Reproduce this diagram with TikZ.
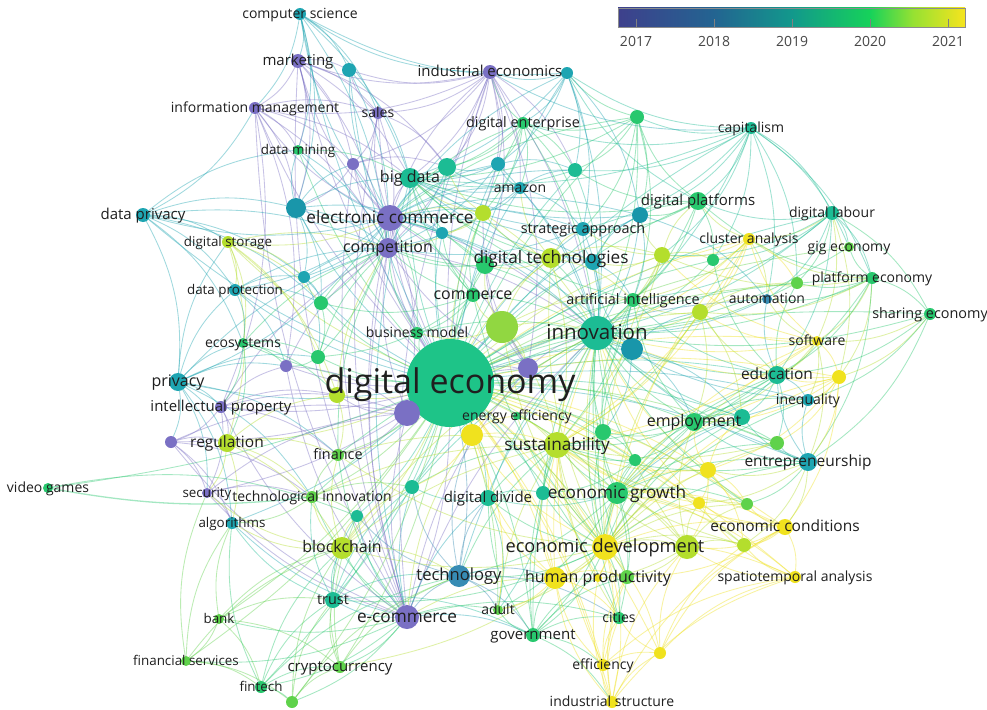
\documentclass[tikz,border=0pt]{standalone}
\usepackage{fontspec}
\setmainfont{Open Sans}
\definecolor{cP}{RGB}{122,112,196}
\definecolor{cB}{RGB}{55,140,180}
\definecolor{cT}{RGB}{30,165,178}
\definecolor{cT2}{RGB}{25,150,170}
\definecolor{cTG}{RGB}{28,188,148}
\definecolor{cDE}{RGB}{30,196,136}
\definecolor{cG}{RGB}{40,200,110}
\definecolor{cGG}{RGB}{95,210,75}
\definecolor{cLG}{RGB}{145,215,65}
\definecolor{cYG}{RGB}{180,222,45}
\definecolor{cY}{RGB}{240,226,30}
\definecolor{L0}{RGB}{62,64,140}
\definecolor{L1}{RGB}{35,100,145}
\definecolor{L2}{RGB}{18,152,140}
\definecolor{L3}{RGB}{22,210,90}
\definecolor{L4}{RGB}{150,225,50}
\definecolor{L5}{RGB}{246,228,30}
\pgfdeclarehorizontalshading{vir}{100bp}{color(0bp)=(L0); color(25bp)=(L0); color(38.85bp)=(L1); color(50bp)=(L2); color(61.3bp)=(L3); color(67.5bp)=(L4); color(75bp)=(L5); color(100bp)=(L5)}
\pgfdeclarelayer{paper}
\pgfdeclarelayer{edges}
\pgfsetlayers{paper,edges,main}
\begin{document}
\begin{tikzpicture}[x=1pt,y=-1pt,
  dot/.style={circle,inner sep=0pt,fill=#1,draw=none},
  lb/.style={font=\fontsize{#1}{#1}\selectfont,text=black!88,inner sep=0pt,anchor=base,yshift={-0.3*#1pt}},
  lb/.default=14,
  ed/.style={draw=#1,line width=0.85pt,draw opacity=0.42,line cap=round}]
\begin{pgfonlayer}{paper}
\fill[white] (0,0) rectangle (987,709);
\end{pgfonlayer}
\useasboundingbox (0,0) rectangle (987,709);
% ---------------- nodes (circles)
\node[dot=cT,minimum size=12] (cs) at (300,14) {};
\node[dot=cP,minimum size=14] (mkt) at (298,61) {};
\node[dot=cP,minimum size=12] (im) at (255,108) {};
\node[dot=cG,minimum size=10] (dm) at (298,150) {};
\node[dot=cT,minimum size=14] (dp) at (143,215) {};
\node[dot=cT2,minimum size=20] (u1) at (296,208) {};
\node[dot=cP,minimum size=26] (ec) at (390,218) {};
\node[dot=cT,minimum size=14] (u2) at (349,70) {};
\node[dot=cP,minimum size=14] (ie) at (490,72) {};
\node[dot=cT,minimum size=12] (u3) at (567,73) {};
\node[dot=cP,minimum size=12] (sales) at (378,113) {};
\node[dot=cP,minimum size=12] (u4) at (353,164) {};
\node[dot=cG,minimum size=12] (de) at (523,123) {};
\node[dot=cG,minimum size=14] (u5) at (637,117) {};
\node[dot=cTG,minimum size=20] (bd) at (410,178) {};
\node[dot=cTG,minimum size=18] (u6) at (447,167) {};
\node[dot=cT,minimum size=14] (u7) at (498,164) {};
\node[dot=cT,minimum size=12] (amz) at (520,188) {};
\node[dot=cTG,minimum size=14] (u8) at (575,170) {};
\node[dot=cYG,minimum size=16] (u9) at (483,213) {};
\node[dot=cT,minimum size=12] (u10) at (442,233) {};
\node[dot=cT2,minimum size=16] (u11) at (640,215) {};
\node[dot=cT,minimum size=14] (sa) at (583,229) {};
\node[dot=cTG,minimum size=12] (cap) at (751,128) {};
\node[dot=cG,minimum size=18] (dpl) at (698,201) {};
\node[dot=cTG,minimum size=14] (dl) at (832,213) {};
\node[dot=cY,minimum size=12] (ca) at (749,239) {};
\node[dot=cYG,minimum size=20] (dt) at (551,258) {};
\node[dot=cG,minimum size=18] (u12) at (485,265) {};
\node[dot=cT,minimum size=16] (u13) at (593,262) {};
\node[dot=cYG,minimum size=16] (u14) at (662,255) {};
\node[dot=cG,minimum size=12] (u15) at (713,260) {};
\node[dot=cGG,minimum size=12] (u16) at (797,283) {};
\node[dot=cB,minimum size=10] (auto) at (767,299) {};
\node[dot=cG,minimum size=14] (ai) at (633,300) {};
\node[dot=cYG,minimum size=16] (u17) at (700,312) {};
\node[dot=cTG,minimum size=34] (inn) at (597,333) {};
\node[dot=cT2,minimum size=22] (u18) at (632,349) {};
\node[dot=cP,minimum size=20] (comp) at (388,248) {};
\node[dot=cG,minimum size=14] (com) at (473,295) {};
\node[dot=cLG,minimum size=32] (u19) at (502,327) {};
\node[dot=cG,minimum size=12] (bm) at (417,333) {};
\node[dot=cDE,minimum size=88] (dec) at (450,383) {};
\node[dot=cP,minimum size=20] (u20) at (528,368) {};
\node[dot=cP,minimum size=26] (u21) at (407,413) {};
\node[dot=cG,minimum size=8] (ee) at (517,416) {};
\node[dot=cY,minimum size=22] (u22) at (472,435) {};
\node[dot=cYG,minimum size=26] (sus) at (557,445) {};
\node[dot=cG,minimum size=16] (u23) at (603,432) {};
\node[dot=cG,minimum size=12] (u24) at (635,460) {};
\node[dot=cGG,minimum size=12] (fin) at (338,455) {};
\node[dot=cYG,minimum size=16] (u25) at (337,395) {};
\node[dot=cYG,minimum size=12] (ds) at (228,242) {};
\node[dot=cT,minimum size=12] (u26) at (304,277) {};
\node[dot=cT,minimum size=12] (dpr) at (235,290) {};
\node[dot=cG,minimum size=14] (u27) at (321,303) {};
\node[dot=cG,minimum size=10] (eco) at (243,343) {};
\node[dot=cG,minimum size=14] (u28) at (318,357) {};
\node[dot=cP,minimum size=12] (u29) at (286,366) {};
\node[dot=cT,minimum size=18] (priv) at (178,382) {};
\node[dot=cP,minimum size=12] (ip) at (221,407) {};
\node[dot=cP,minimum size=12] (u30) at (171,442) {};
\node[dot=cYG,minimum size=18] (reg) at (227,443) {};
\node[dot=cP,minimum size=10] (sec) at (207,493) {};
\node[dot=cGG,minimum size=12] (ti) at (312,497) {};
\node[dot=cTG,minimum size=12] (u31) at (357,516) {};
\node[dot=cG,minimum size=10] (vg) at (48,488) {};
\node[dot=cT,minimum size=12] (alg) at (232,523) {};
\node[dot=cGG,minimum size=10] (bank) at (219,619) {};
\node[dot=cGG,minimum size=10] (fs) at (186,661) {};
\node[dot=cG,minimum size=12] (fint) at (261,687) {};
\node[dot=cGG,minimum size=12] (u32) at (292,702) {};
\node[dot=cYG,minimum size=22] (bc) at (342,548) {};
\node[dot=cTG,minimum size=16] (trust) at (333,600) {};
\node[dot=cGG,minimum size=12] (cry) at (340,667) {};
\node[dot=cTG,minimum size=14] (u33) at (412,487) {};
\node[dot=cTG,minimum size=16] (dd) at (488,498) {};
\node[dot=cTG,minimum size=14] (u34) at (543,493) {};
\node[dot=cG,minimum size=22] (eg) at (617,493) {};
\node[dot=cY,minimum size=26] (edv) at (605,547) {};
\node[dot=cYG,minimum size=24] (u35) at (687,547) {};
\node[dot=cB,minimum size=22] (tech) at (459,576) {};
\node[dot=cY,minimum size=22] (u45) at (555,578) {};
\node[dot=cY,minimum size=8] (hp) at (598,578) {};
\node[dot=cGG,minimum size=14] (u36) at (627,577) {};
\node[dot=cGG,minimum size=10] (adult) at (498,610) {};
\node[dot=cP,minimum size=24] (ecm) at (407,617) {};
\node[dot=cG,minimum size=12] (cities) at (619,618) {};
\node[dot=cG,minimum size=14] (gov) at (533,635) {};
\node[dot=cY,minimum size=12] (eff) at (603,665) {};
\node[dot=cY,minimum size=12] (is) at (612,702) {};
\node[dot=cY,minimum size=12] (u37) at (660,653) {};
\node[dot=cY,minimum size=16] (u38) at (708,470) {};
\node[dot=cY,minimum size=12] (u39) at (699,503) {};
\node[dot=cGG,minimum size=12] (u40) at (747,504) {};
\node[dot=cY,minimum size=16] (econd) at (785,527) {};
\node[dot=cYG,minimum size=14] (u41) at (744,545) {};
\node[dot=cY,minimum size=12] (spa) at (795,577) {};
\node[dot=cG,minimum size=18] (emp) at (694,422) {};
\node[dot=cTG,minimum size=16] (u42) at (742,417) {};
\node[dot=cGG,minimum size=14] (u43) at (777,443) {};
\node[dot=cT,minimum size=18] (ent) at (808,462) {};
\node[dot=cTG,minimum size=18] (edu) at (777,375) {};
\node[dot=cT,minimum size=12] (ineq) at (808,400) {};
\node[dot=cY,minimum size=10] (soft) at (817,341) {};
\node[dot=cY,minimum size=14] (u44) at (839,377) {};
\node[dot=cGG,minimum size=10] (gig) at (849,247) {};
\node[dot=cG,minimum size=12] (pe) at (872,278) {};
\node[dot=cG,minimum size=12] (se) at (930,314) {};
% ---------------- edges
\begin{pgfonlayer}{edges}
\foreach \n/\c in {cs/cT,mkt/cP,im/cP,dm/cG,dp/cT,u1/cT,ec/cP,u2/cT,ie/cP,u3/cT,sales/cP,u4/cP,de/cG,u5/cG,bd/cTG,u6/cTG,u7/cT,amz/cT,u8/cTG,u9/cYG,u10/cT,u11/cT,sa/cT,cap/cTG,dpl/cG,dl/cTG,ca/cY,dt/cYG,u12/cG,u13/cT,u14/cYG,u15/cG,u16/cGG,auto/cB,ai/cG,u17/cYG,inn/cTG,u18/cT,comp/cP,com/cG,u19/cYG,bm/cG,u20/cP,u21/cP,u22/cY,sus/cYG,u23/cG,u24/cG,fin/cGG,u25/cYG,ds/cYG,u26/cT,dpr/cT,u27/cG,eco/cG,u28/cG,u29/cP,priv/cT,ip/cP,u30/cP,reg/cYG,sec/cP,ti/cGG,u31/cTG,alg/cT,bank/cGG,fs/cGG,fint/cG,u32/cGG,bc/cYG,trust/cTG,cry/cGG,u33/cTG,dd/cTG,u34/cTG,eg/cG,edv/cY,u35/cYG,tech/cB,u45/cY,u36/cGG,adult/cGG,ecm/cP,cities/cG,gov/cG,eff/cY,is/cY,u37/cY,u38/cY,u39/cY,u40/cGG,econd/cY,u41/cYG,spa/cY,emp/cG,u42/cTG,u43/cGG,ent/cT,edu/cTG,ineq/cT,soft/cY,u44/cY,gig/cGG,pe/cG,se/cG}
  {\draw[ed=\c] (dec) to[bend left=10] (\n);}
\draw[ed=cG,line width=1.3pt] (vg) to[bend right=8] (ti);
\draw[ed=cG] (vg) to[bend right=6] (dec);
\foreach \n/\c in {dt/cG,u13/cT,sa/cT,u11/cT,u18/cT,ai/cG,u17/cYG,u14/cYG,u15/cG,dpl/cG,cap/cTG,dl/cTG,ca/cY,auto/cT,u16/cG,edu/cTG,ineq/cT,ent/cT,emp/cG,u42/cTG,u43/cG,sus/cYG,u23/cG,u24/cG,eg/cG,edv/cYG,u35/cYG,gov/cG,tech/cT,dd/cTG,u34/cTG,bd/cTG,amz/cT,u8/cTG,u5/cG,de/cG,ie/cP,comp/cP,ec/cP,com/cG,u19/cYG,bm/cG,u20/cP,u22/cY,u45/cY,u36/cG,cities/cG,u38/cY,u39/cY,u40/cG,soft/cY,u44/cY,pe/cG,gig/cG,se/cG,trust/cTG,bc/cYG,ti/cG,fin/cG,ecm/cP,u33/cTG,u12/cG,u9/cYG,u7/cT,u3/cT}
  {\draw[ed=\c] (inn) to[bend right=12] (\n);}
\foreach \n/\c in {u35/cYG,u45/cY,hp/cY,u36/cYG,eff/cY,is/cY,u37/cY,econd/cY,spa/cY,u41/cYG,u38/cY,u39/cY,u40/cYG,eg/cYG,sus/cYG,u22/cY,u23/cG,u24/cG,gov/cG,cities/cG,adult/cYG,tech/cG,dd/cG,u34/cG,emp/cG,u42/cG,u43/cYG,ent/cG,edu/cG,ineq/cG,soft/cY,u44/cY,u17/cYG,u14/cYG,ca/cY,ai/cG,dt/cYG,u19/cYG,com/cG,fin/cYG,trust/cG,bc/cYG,cry/cYG,ee/cYG}
  {\draw[ed=\c] (edv) to[bend left=14] (\n);}
\foreach \n/\c in {u22/cY,u23/cG,u24/cG,eg/cG,emp/cG,u38/cY,u39/cY,u35/cYG,hp/cY,u45/cY,gov/cG,dd/cG,u34/cG,ee/cYG,u19/cYG,dt/cYG,ai/cG,u17/cYG,u14/cYG,edu/cG,ent/cG,u43/cYG,econd/cY,u41/cYG,tech/cG,adult/cYG,fin/cYG,bc/cYG,u33/cG,ti/cYG,u40/cYG,ca/cY,soft/cY,cities/cYG,eff/cY}
  {\draw[ed=\c] (sus) to[bend right=12] (\n);}
\foreach \n/\c in {u24/cG,emp/cG,u42/cG,u43/cG,ent/cG,u38/cY,u39/cY,u40/cG,econd/cY,u41/cYG,u35/cYG,spa/cY,hp/cY,u36/cG,cities/cG,gov/cG,adult/cG,dd/cTG,u34/cTG,tech/cG,u23/cG,ineq/cT,edu/cG,u44/cY,soft/cY}
  {\draw[ed=\c] (eg) to[bend left=14] (\n);}
\foreach \n/\c in {tech/cB,trust/cT,bc/cG,cry/cG,fint/cG,bank/cG,adult/cG,gov/cT,dd/cT,u33/cT,u31/cT,ti/cG,sec/cP,alg/cT,u21/cP,comp/cP,ec/cP,mkt/cP,im/cP,sales/cP,u4/cP,ie/cP,bd/cT,u20/cP,fin/cG,u30/cP,ip/cP,u29/cP,u32/cG,fs/cG,cities/cG,u45/cYG,u22/cYG}
  {\draw[ed=\c] (ecm) to[bend left=14] (\n);}
\foreach \n/\c in {ec/cP,mkt/cP,im/cP,sales/cP,u4/cP,ie/cP,bd/cT,u6/cT,u7/cT,amz/cT,u10/cT,u1/cT,dm/cT,cs/cT,u2/cT,u26/cT,u27/cG,u28/cG,u29/cP,dpr/cT,ds/cYG,dp/cT,priv/cT,ip/cP,u21/cP,u20/cP,com/cG,bm/cG,dt/cG,u12/cG,sa/cT,u25/cYG,eco/cG,fin/cG,u9/cYG}
  {\draw[ed=\c] (comp) to[bend right=14] (\n);}
\foreach \n/\c in {mkt/cP,im/cP,sales/cP,u4/cP,ie/cP,u2/cT,cs/cT,dm/cT,u1/cT,bd/cP,u6/cT,u7/cT,amz/cT,u10/cT,u9/cYG,u12/cG,de/cG,u3/cT,u8/cT,u5/cG,sa/cT,u13/cT,dp/cT,ds/cYG,dpr/cT,u26/cT,priv/cT,u21/cP,u27/cG,u28/cG,com/cG,bm/cG,inn/cT,u18/cT,u20/cP,u11/cT}
  {\draw[ed=\c] (ec) to[bend left=14] (\n);}
\foreach \n/\c in {cs/cT,u2/cT,mkt/cP,im/cP,dm/cG,u1/cT,ie/cP,u3/cT,de/cG,u7/cT,u6/cTG,amz/cT,u8/cTG,u5/cG,u9/cYG,sa/cT,dt/cG,u12/cG,u13/cT,ai/cG,dpl/cG,cap/cTG,u10/cT,com/cG,u11/cT}
  {\draw[ed=\c] (bd) to[bend right=14] (\n);}
\foreach \a/\b/\c in {cap/dpl/cTG,cap/dl/cTG,cap/u5/cTG,cap/u8/cTG,cap/u11/cTG,cap/sa/cTG,cap/u14/cTG,cap/pe/cTG,cap/gig/cTG,cap/u3/cTG,cap/de/cTG,cap/ie/cT,cap/auto/cTG,cap/u16/cTG,cap/u15/cTG,
dl/dpl/cTG,dl/gig/cTG,dl/pe/cTG,dl/ca/cYG,dl/u15/cTG,dl/u16/cG,dl/auto/cTG,dl/se/cG,dl/soft/cYG,dl/u44/cYG,dl/edu/cTG,dl/u14/cTG,dl/ai/cTG,
pe/gig/cG,pe/se/cG,pe/u16/cG,pe/auto/cG,pe/ca/cYG,pe/u17/cYG,pe/u44/cYG,pe/soft/cYG,pe/edu/cG,pe/ent/cG,pe/emp/cG,pe/u14/cYG,pe/dpl/cG,
se/u44/cYG,se/soft/cYG,se/ent/cG,se/edu/cG,se/ineq/cG,
soft/u44/cY,soft/ca/cY,soft/u17/cY,soft/u14/cY,soft/emp/cYG,soft/ent/cYG,soft/edu/cYG,soft/ineq/cYG,soft/auto/cYG,
u44/edu/cY,u44/ineq/cY,u44/ent/cY,u44/u43/cY,u44/emp/cY,u44/econd/cY,u44/u38/cY,
ent/ineq/cT,ent/edu/cT,ent/u43/cTG,ent/u42/cTG,ent/emp/cTG,ent/econd/cYG,ent/u40/cG,ent/u41/cYG,ent/u38/cYG,ent/u39/cYG,
edu/ineq/cT,edu/emp/cTG,edu/u42/cTG,edu/u43/cTG,edu/ai/cTG,edu/u17/cYG,edu/auto/cT,edu/u16/cG,edu/u15/cG,
ca/u14/cY,ca/u15/cY,ca/u17/cY,ca/ai/cYG,ca/auto/cYG,ca/dpl/cYG,ca/u16/cY,ca/sus/cY,
u14/u15/cYG,u14/dpl/cYG,u14/u11/cYG,u14/ai/cYG,u14/sa/cYG,u14/u13/cYG,u17/ai/cYG,u17/auto/cYG,u17/u16/cYG,u17/emp/cYG,u17/u42/cYG,
dpl/u11/cG,dpl/u5/cG,dpl/u8/cG,dpl/sa/cG,dpl/u15/cG,dpl/ai/cG,dpl/u3/cTG,
u5/u8/cG,u5/sa/cG,u5/u11/cG,u5/de/cG,u5/u3/cG,u5/ai/cG,u5/u13/cG,
u3/ie/cT,u3/de/cT,u3/u7/cT,u3/u8/cT,u3/sa/cT,u3/u11/cT,u3/cs/cT,
de/u7/cG,de/u8/cG,de/amz/cG,de/u9/cG,de/sa/cG,de/ie/cG,de/u6/cG,
ie/sales/cP,ie/u2/cP,ie/u7/cP,ie/u6/cP,ie/amz/cP,ie/u8/cP,ie/u20/cP,ie/mkt/cP,ie/im/cP,ie/u4/cP,ie/cs/cT,ie/u9/cP,ie/u12/cP,
cs/mkt/cT,cs/u2/cT,cs/im/cT,cs/dm/cT,cs/sales/cT,cs/u1/cT,
mkt/im/cP,mkt/sales/cP,mkt/u4/cP,mkt/u2/cP,mkt/u1/cP,mkt/dm/cP,mkt/u6/cP,
im/sales/cP,im/u4/cP,im/dm/cP,im/u1/cP,im/dp/cT,im/u29/cP,im/ip/cP,
sales/u4/cP,sales/u6/cP,sales/u2/cP,u4/u6/cP,u4/u1/cP,
dp/priv/cT,dp/dpr/cT,dp/ds/cT,dp/u26/cT,dp/u1/cT,dp/eco/cT,dp/dm/cT,dp/u27/cT,
priv/dpr/cT,priv/eco/cT,priv/ip/cT,priv/reg/cT,priv/u30/cT,priv/alg/cT,priv/sec/cT,priv/ds/cT,priv/u29/cT,priv/fin/cT,priv/ti/cT,priv/u28/cT,
ds/dpr/cYG,ds/eco/cYG,ds/reg/cYG,ds/u27/cYG,ds/u28/cYG,ds/u25/cYG,ds/u26/cYG,
dpr/eco/cT,dpr/u26/cT,dpr/u27/cT,dpr/u29/cT,
eco/u28/cG,eco/u29/cG,eco/ip/cG,eco/reg/cG,eco/u25/cG,
ip/u30/cP,ip/reg/cP,ip/u29/cP,ip/sec/cP,ip/u21/cP,ip/fin/cP,ip/u25/cP,
u30/reg/cP,u30/sec/cP,u30/ti/cP,u30/alg/cP,u30/u21/cP,
reg/sec/cYG,reg/ti/cYG,reg/fin/cYG,reg/u25/cYG,reg/alg/cYG,reg/bc/cYG,
sec/alg/cP,sec/ti/cP,sec/u21/cP,vg/u31/cG,
bank/fs/cGG,bank/fint/cGG,bank/trust/cGG,bank/alg/cGG,bank/bc/cGG,bank/cry/cGG,
fs/fint/cGG,fs/alg/cGG,fs/u32/cGG,fs/sec/cGG,fs/bc/cGG,
fint/cry/cG,fint/u32/cG,fint/bc/cG,fint/trust/cG,fint/tech/cG,fint/alg/cG,
u32/cry/cGG,u32/bc/cGG,u32/trust/cGG,u32/tech/cGG,
cry/bc/cGG,cry/trust/cGG,cry/tech/cGG,cry/u31/cGG,
trust/bc/cTG,trust/tech/cTG,trust/ti/cTG,trust/alg/cTG,trust/u31/cTG,trust/u33/cTG,trust/gov/cTG,
bc/ti/cYG,bc/alg/cYG,bc/u31/cYG,bc/sec/cYG,bc/fin/cYG,bc/u33/cYG,bc/tech/cYG,
ti/u31/cGG,ti/alg/cGG,ti/fin/cGG,ti/u33/cGG,
tech/adult/cB,tech/gov/cB,tech/dd/cB,tech/u33/cB,tech/u45/cB,tech/u31/cB,tech/u22/cB,tech/cities/cB,
gov/adult/cG,gov/cities/cG,gov/eff/cG,gov/is/cG,gov/u45/cG,gov/hp/cG,gov/u36/cG,gov/dd/cG,
is/eff/cY,is/u37/cY,is/spa/cY,is/hp/cY,is/u36/cY,is/cities/cY,is/u35/cY,is/econd/cY,is/u45/cY,
eff/u37/cY,eff/cities/cY,eff/u36/cY,eff/u45/cY,eff/spa/cY,
u37/u35/cY,u37/u41/cY,u37/cities/cY,u37/econd/cY,u37/spa/cY,
econd/spa/cY,econd/u41/cY,econd/u35/cY,econd/u39/cY,econd/u40/cY,econd/u38/cY,econd/u36/cY,
spa/u41/cY,spa/u35/cY,spa/u39/cY,
u38/u39/cY,u38/u40/cY,u38/u41/cY,u38/emp/cY,u38/u35/cY,u38/u42/cY,
u35/u41/cYG,u35/u39/cYG,u35/u40/cYG,u35/u36/cYG,u35/u45/cYG,u35/emp/cYG,
emp/u42/cG,emp/u43/cG,emp/u23/cG,emp/u24/cG,emp/ai/cG,emp/ineq/cG,
u45/u22/cY,u45/adult/cY,u45/cities/cY,u45/u36/cY,u45/dd/cY,u45/u34/cY,
u22/adult/cY,u22/u33/cY,u22/dd/cY,u22/ee/cY,
u23/u24/cG,u23/ai/cG,u23/u18/cG,u24/u34/cG,
dd/u33/cTG,dd/u34/cTG,dd/adult/cTG,u34/adult/cTG,
u19/com/cYG,u19/bm/cYG,u19/dt/cYG,u19/u12/cYG,u19/u20/cYG,u19/ai/cYG,
com/u12/cG,com/bm/cG,com/u10/cG,com/u9/cG,com/u28/cG,com/u27/cG,
u18/ai/cT,u18/u13/cT,u18/u23/cT,u18/emp/cT,u18/u17/cT,u18/u42/cT,
dt/u12/cYG,dt/u13/cYG,dt/sa/cYG,dt/u9/cYG,dt/amz/cYG,dt/ai/cYG,dt/u14/cYG,
u13/sa/cT,u13/ai/cT,u13/u11/cT,u11/sa/cT,u11/ai/cT,u11/auto/cT,
amz/u9/cT,amz/u7/cT,amz/u6/cT,amz/sa/cT,amz/u8/cT,u7/u6/cT,u7/u8/cT,u9/u6/cYG,u9/u10/cYG,u10/u12/cT,
u1/dm/cT,u1/u26/cT,u1/u27/cT,u1/u4/cT,u1/u10/cT,u26/u27/cT,u26/u28/cT,u27/u28/cG,u28/u29/cG,u29/u21/cP,u25/u28/cYG,u25/fin/cYG,u21/u25/cP,u21/fin/cP,u21/u20/cP,u20/u12/cP,u20/u9/cP}
  {\draw[ed=\c] (\a) to[bend left=16] (\b);}
\end{pgfonlayer}
% ---------------- labels
\node[lb=14] (l-cs) at (cs) {computer science};
\node[lb=15] (l-mkt) at (mkt) {marketing};
\node[lb=14] (l-im) at (im) {information management};
\node[lb=13.4] (l-dm) at (dm) {data mining};
\node[lb=15] (l-dp) at (dp) {data privacy};
\node[lb=17.2] (l-ec) at (ec) {electronic commerce};
\node[lb=15] (l-ie) at (ie) {industrial economics};
\node[lb=14] (l-sales) at (sales) {sales};
\node[lb=14.4] (l-de) at (de) {digital enterprise};
\node[lb=16] (l-bd) at (bd) {big data};
\node[lb=14] (l-amz) at (amz) {amazon};
\node[lb=14.4] (l-sa) at (sa) {strategic approach};
\node[lb=14] (l-cap) at (cap) {capitalism};
\node[lb=15] (l-dpl) at (dpl) {digital platforms};
\node[lb=14] (l-dl) at (dl) {digital labour};
\node[lb=14] (l-ca) at (ca) {cluster analysis};
\node[lb=17.2] (l-dt) at (dt) {digital technologies};
\node[lb=14] (l-auto) at (auto) {automation};
\node[lb=14.4] (l-ai) at (ai) {artificial intelligence};
\node[lb=20.5] (l-inn) at (inn) {innovation};
\node[lb=16] (l-comp) at (comp) {competition};
\node[lb=16] (l-com) at (com) {commerce};
\node[lb=14] (l-bm) at (bm) {business model};
\node[lb=34] (l-dec) at (dec) {digital economy};
\node[lb=14] (l-ee) at (ee) {energy efficiency};
\node[lb=17.2] (l-sus) at (sus) {sustainability};
\node[lb=14.4] (l-fin) at (fin) {finance};
\node[lb=13.4] (l-ds) at (ds) {digital storage};
\node[lb=13.4] (l-dpr) at (dpr) {data protection};
\node[lb=14] (l-eco) at (eco) {ecosystems};
\node[lb=16] (l-priv) at (priv) {privacy};
\node[lb=15] (l-ip) at (ip) {intellectual property};
\node[lb=15.5] (l-reg) at (reg) {regulation};
\node[lb=13.4] (l-sec) at (sec) {security};
\node[lb=14] (l-ti) at (ti) {technological innovation};
\node[lb=14] (l-vg) at (vg) {video games};
\node[lb=13.4] (l-alg) at (alg) {algorithms};
\node[lb=13.4] (l-bank) at (bank) {bank};
\node[lb=13.4] (l-fs) at (fs) {financial services};
\node[lb=13.4] (l-fint) at (fint) {fintech};
\node[lb=16] (l-bc) at (bc) {blockchain};
\node[lb=14.4] (l-trust) at (trust) {trust};
\node[lb=15] (l-cry) at (cry) {cryptocurrency};
\node[lb=15] (l-dd) at (dd) {digital divide};
\node[lb=17.2] (l-eg) at (eg) {economic growth};
\node[lb=18.2] (l-edv) at (edv) {economic development};
\node[lb=16.6] (l-tech) at (tech) {technology};
\node[lb=16] (l-hp) at (hp) {human productivity};
\node[lb=14] (l-adult) at (adult) {adult};
\node[lb=17.2] (l-ecm) at (ecm) {e-commerce};
\node[lb=14] (l-cities) at (cities) {cities};
\node[lb=15] (l-gov) at (gov) {government};
\node[lb=14] (l-eff) at (eff) {efficiency};
\node[lb=14] (l-is) at (is) {industrial structure};
\node[lb=15.5] (l-econd) at (econd) {economic conditions};
\node[lb=14] (l-spa) at (spa) {spatiotemporal analysis};
\node[lb=16] (l-emp) at (emp) {employment};
\node[lb=15.5] (l-ent) at (ent) {entrepreneurship};
\node[lb=15.5] (l-edu) at (edu) {education};
\node[lb=14] (l-ineq) at (ineq) {inequality};
\node[lb=14] (l-soft) at (soft) {software};
\node[lb=14] (l-gig) at (gig) {gig economy};
\node[lb=14] (l-pe) at (pe) {platform economy};
\node[lb=14.4] (l-se) at (se) {sharing economy};
% ---------------- legend
\shade[shading=vir] (618,8) rectangle (965,27);
\draw[black!45,line width=0.8pt] (618,8) rectangle (965,27);
\foreach \x/\yr in {636/2017,714/2018,792/2019,870/2020,948/2021}{
  \draw[black!50,line width=0.9pt] (\x,19) -- (\x,27);
  \node[lb=14,text=black!72] (yr\yr) at (\x,42) {\yr};
}
\end{tikzpicture}
\end{document}
